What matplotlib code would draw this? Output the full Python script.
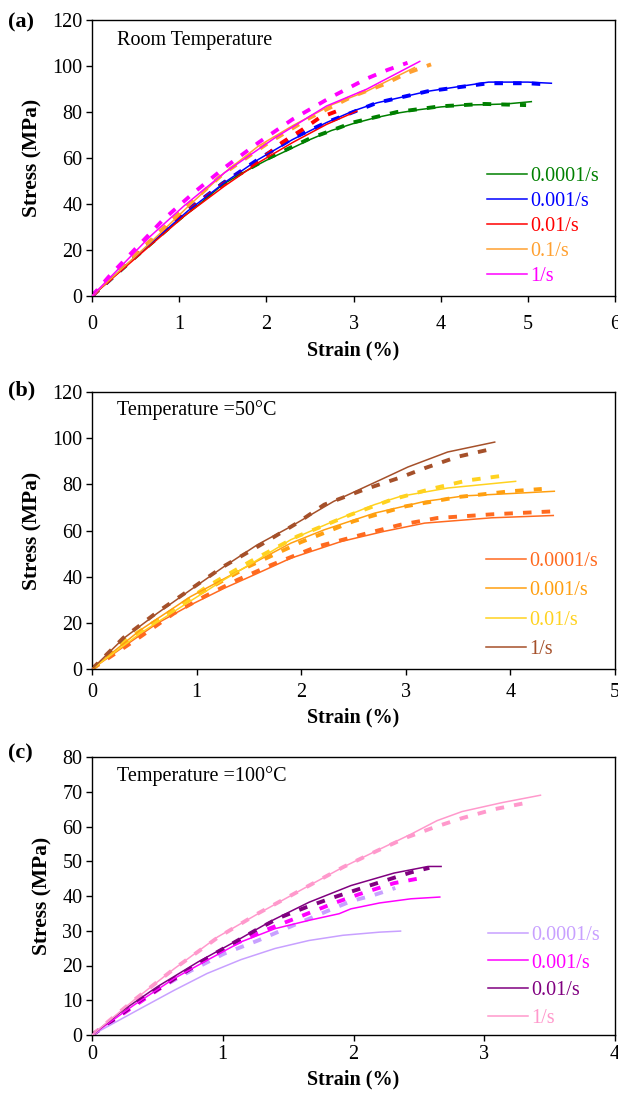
import matplotlib
matplotlib.use('Agg')
import matplotlib.pyplot as plt

plt.rcParams['font.family'] = ['Liberation Serif', 'DejaVu Serif']

# ---- panel (a): room temperature ----
rates_a = ['0.0001/s', '0.001/s', '0.01/s', '0.1/s', '1/s']
colors_a = ['#008000', '#0000FF', '#FF0000', '#FFA030', '#FF00FF']

a_exp_strain = [
    [0, 0.25, 0.5, 0.75, 1.0, 1.25, 1.5, 1.75, 2.0, 2.25, 2.5, 2.75, 3.0, 3.25, 3.5, 3.75, 4.0, 4.25, 4.5, 4.75, 5.04],
    [0, 0.55, 1.1, 1.52, 1.91, 2.3, 2.69, 3.0, 3.27, 3.85, 4.55, 5.0, 5.27],
    [0, 0.55, 1.06, 1.52, 1.91, 2.3, 2.69, 3.04],
    [0, 0.67, 1.13, 1.52, 1.91, 2.3, 2.76, 3.15, 3.7],
    [0, 0.67, 1.05, 1.52, 2.1, 2.69, 3.15, 3.76],
]
a_exp_stress = [
    [0, 8.5, 17, 25, 33, 40.5, 48.5, 54, 59, 63.5, 68, 72, 75, 77.5, 79.5, 81, 82.2, 83, 83.2, 83.5, 84.5],
    [0, 18.8, 37, 49.3, 59.4, 68, 75.4, 80.5, 84, 89, 93, 93, 92.5],
    [0, 18.1, 34.8, 47.8, 58, 66.7, 74.6, 80.4],
    [0, 23.2, 39.9, 53.6, 65.2, 74, 83.3, 89, 99.3],
    [0, 26, 39, 53.6, 68.8, 82.6, 89.9, 102],
]
a_mod_strain = [
    [0, 0.5, 1.0, 1.5, 2.0, 2.5, 3.0, 3.5, 4.0, 4.5, 4.98],
    [0, 0.55, 1.1, 1.52, 1.91, 2.3, 2.69, 3.0, 3.27, 3.85, 4.55, 5.0, 5.22],
    [0, 0.5, 1.0, 1.5, 1.91, 2.18, 2.42, 2.61, 2.88],
    [0, 0.5, 1.0, 1.5, 2.0, 2.5, 3.0, 3.35, 3.62, 3.89],
    [0, 0.2, 0.51, 0.82, 1.17, 1.52, 1.91, 2.3, 2.73, 3.15, 3.39, 3.62],
]
a_mod_stress = [
    [0, 17, 33.5, 49, 59.5, 68.5, 75.5, 80, 82.5, 83.5, 83],
    [0, 19, 37.5, 49.5, 59.5, 68.5, 75.5, 80, 84, 89, 92.5, 92.5, 92],
    [0, 17.5, 34, 48.5, 58.5, 66.7, 72.5, 77.5, 81.4],
    [0, 18, 36, 53, 66, 77.5, 87, 92, 97, 100.7],
    [0, 8.7, 21, 33.3, 45, 55.8, 66.7, 76.8, 86.2, 94.5, 98.3, 101.4],
]

# ---- panel (b): 50 C ----
rates_b = ['0.0001/s', '0.001/s', '0.01/s', '1/s']
colors_b = ['#FF6A1F', '#FF9F10', '#FFD21F', '#A5502A']

b_exp_strain = [
    [0, 0.3, 0.62, 0.94, 1.26, 1.58, 1.9, 2.38, 2.79, 3.18, 3.82, 4.41],
    [0, 0.46, 0.94, 1.42, 1.9, 2.22, 2.7, 3.18, 3.56, 4.0, 4.42],
    [0, 0.46, 0.88, 1.26, 1.58, 1.9, 2.38, 2.7, 2.95, 3.4, 4.05],
    [0, 0.3, 0.62, 0.94, 1.26, 1.58, 1.9, 2.31, 2.76, 3.02, 3.4, 3.85],
]
b_exp_stress = [
    [0, 9.6, 19.7, 27.7, 34.9, 41.4, 48, 55.2, 59.6, 63.2, 65.5, 66.5],
    [0, 16.8, 31.3, 42.9, 54.5, 60.3, 67.5, 72.6, 75, 76, 77],
    [0, 15.4, 27.7, 38.6, 47.2, 56, 65.4, 71.2, 74.8, 78.4, 81.3],
    [0, 13.2, 24, 34.2, 44.3, 53.8, 61.7, 72.6, 82, 87.5, 94, 98.3],
]
b_mod_strain = [
    [0, 0.46, 0.78, 1.07, 1.39, 1.71, 2.15, 2.63, 2.95, 3.3, 3.82, 4.41],
    [0, 0.5, 1.0, 1.5, 2.0, 2.5, 3.0, 3.5, 4.0, 4.3],
    [0, 0.3, 0.68, 1.1, 1.51, 1.96, 2.47, 2.86, 3.24, 3.59, 3.94],
    [0, 0.3, 0.62, 0.94, 1.26, 1.64, 1.96, 2.22, 2.6, 2.95, 3.18, 3.5, 3.77],
]
b_mod_stress = [
    [0, 13.9, 24, 31.3, 38.6, 45, 53, 58.8, 62.5, 65.4, 67, 68.3],
    [0, 17.5, 32, 44.5, 55, 64, 70.5, 74.5, 77, 78],
    [0, 12, 22.6, 35.7, 46.5, 57.4, 66.8, 73.3, 78, 81.7, 83.8],
    [0, 13.5, 24.5, 34.5, 44.5, 54.5, 63.2, 71.2, 77.7, 83, 87, 92, 94.8],
]

# ---- panel (c): 100 C ----
rates_c = ['0.0001/s', '0.001/s', '0.01/s', '1/s']
colors_c = ['#C8A0FF', '#FF00FF', '#800080', '#FF99CC']

c_exp_strain = [
    [0, 0.37, 0.63, 0.88, 1.14, 1.4, 1.66, 1.92, 2.2, 2.36],
    [0, 0.32, 0.63, 0.88, 1.14, 1.4, 1.66, 1.89, 1.98, 2.2, 2.44, 2.66],
    [0, 0.24, 0.5, 0.81, 1.09, 1.38, 1.66, 1.98, 2.31, 2.57, 2.67],
    [0, 0.32, 0.63, 0.96, 1.27, 1.66, 1.92, 2.18, 2.44, 2.64, 2.83, 3.14, 3.43],
]
c_exp_stress = [
    [0, 7.6, 12.9, 17.7, 21.7, 24.9, 27.2, 28.7, 29.6, 29.9],
    [0, 8.6, 16.3, 21.5, 26.8, 30.6, 33, 34.9, 36.3, 38, 39.2, 39.7],
    [0, 7.2, 13.9, 21, 26.8, 33, 38.2, 43, 46.6, 48.5, 48.5],
    [0, 10, 19.1, 28.2, 34.9, 43, 48.3, 53.1, 57.8, 61.7, 64.3, 66.9, 69],
]
c_mod_strain = [
    [0, 0.45, 0.76, 1.01, 1.27, 1.58, 1.84, 1.98, 2.15, 2.32],
    [0, 0.5, 0.81, 1.07, 1.32, 1.58, 1.84, 2.05, 2.31, 2.55],
    [0, 0.37, 0.65, 0.96, 1.25, 1.43, 1.64, 1.84, 2.18, 2.44, 2.58],
    [0, 0.32, 0.63, 0.96, 1.27, 1.66, 1.92, 2.18, 2.41, 2.62, 2.83, 3.08, 3.36],
]
c_mod_stress = [
    [0, 12, 18.6, 23.4, 27.2, 32.2, 36.3, 38.5, 40.2, 42.3],
    [0, 12.9, 20.6, 25.8, 30.1, 33.9, 37.8, 40.6, 43.7, 45.4],
    [0, 10, 16.7, 23.9, 30.1, 33.7, 36.8, 39.5, 43.7, 46.8, 48.1],
    [0, 10, 19.1, 28, 35, 43, 48.3, 53, 56.9, 59.8, 62.4, 65, 67.1],
]

panels = [
    dict(tag='(a)', note='Room Temperature', rates=rates_a, colors=colors_a,
         es=a_exp_strain, ey=a_exp_stress, ms=a_mod_strain, my=a_mod_stress,
         xmax=6, ymax=120, ystep=20, spacing=0.3, xpad=10, note_y=0.924,
         leg_anchor=(0.969, 0.035), tag_dy=2),
    dict(tag='(b)', note='Temperature =50°C', rates=rates_b, colors=colors_b,
         es=b_exp_strain, ey=b_exp_stress, ms=b_mod_strain, my=b_mod_stress,
         xmax=5, ymax=120, ystep=20, spacing=0.52, xpad=6, note_y=0.935,
         leg_anchor=(0.968, 0.035), tag_dy=-2),
    dict(tag='(c)', note='Temperature =100°C', rates=rates_c, colors=colors_c,
         es=c_exp_strain, ey=c_exp_stress, ms=c_mod_strain, my=c_mod_stress,
         xmax=4, ymax=80, ystep=10, spacing=0.43, xpad=3, note_y=0.93,
         leg_anchor=(0.971, 0.025), tag_dy=-4),
]

fig = plt.figure(figsize=(6.18, 10.98), dpi=100)
W, H = 618.0, 1098.0
boxes = [(92, 20, 615, 296), (92, 392, 615, 669), (92, 757, 615, 1035)]

for p, (x0, y0, x1, y1) in zip(panels, boxes):
    ax = fig.add_axes([x0 / W, 1 - y1 / H, (x1 - x0) / W, (y1 - y0) / H])
    n = len(p['rates'])
    # model curves (dashed)
    for i in range(n):
        ax.plot(p['ms'][i], p['my'][i], color=p['colors'][i], lw=2.8,
                dashes=(2.2, 2.6), zorder=2)
    # experimental curves (solid)
    for i in range(n):
        ax.plot(p['es'][i], p['ey'][i], color=p['colors'][i], lw=1.1,
                label=p['rates'][i], zorder=3)
    ax.set_xlim(0, p['xmax'])
    ax.set_ylim(0, p['ymax'])
    ax.set_xticks(range(0, p['xmax'] + 1))
    ax.set_yticks(range(0, p['ymax'] + 1, p['ystep']))
    ax.tick_params(direction='out', length=4, width=1, labelsize=14.5)
    ax.tick_params(axis='x', pad=p['xpad'])
    ax.tick_params(axis='y', pad=3)
    for s in ax.spines.values():
        s.set_linewidth(1.0)
    ax.set_xlabel('Strain (%)', fontsize=14.5, fontweight='bold', labelpad=4)
    ax.set_ylabel('Stress (MPa)', fontsize=15.5, fontweight='bold', labelpad=7)
    ax.text(0.047, p['note_y'], p['note'], transform=ax.transAxes, fontsize=14.5,
            va='center', ha='left')
    ax.legend(loc='lower right', bbox_to_anchor=p['leg_anchor'], frameon=False,
              fontsize=14.5, handlelength=2.0, handletextpad=0.15,
              labelspacing=p['spacing'], labelcolor='linecolor',
              borderaxespad=0, borderpad=0)
    fig.text(8 / W, 1 - (y0 + p['tag_dy']) / H, p['tag'], fontsize=16,
             fontweight='bold', va='center', ha='left')

fig.savefig('out.png', dpi=100)
